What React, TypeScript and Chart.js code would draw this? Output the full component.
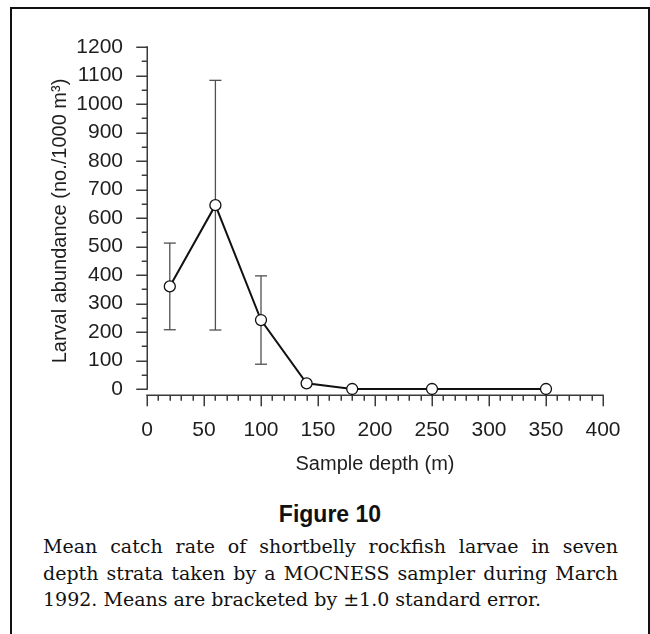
import React, { useEffect, useRef } from "react";
import { Chart, registerables } from "chart.js";

Chart.register(...registerables);

// Sampling depths (m) and mean larval abundance (no./1000 m³)
const depths = [20, 60, 100, 140, 180, 250, 350];
const means = [360, 645, 242, 20, 0, 0, 0];
// ±1.0 standard error limits (null where no bar is shown)
const errLow: (number | null)[] = [208, 207, 87, null, null, null, null];
const errHigh: (number | null)[] = [512, 1083, 397, null, null, null, null];

const xTicks = [0, 50, 100, 150, 200, 250, 300, 350, 400];
const yTicks = [0, 100, 200, 300, 400, 500, 600, 700, 800, 900, 1000, 1100, 1200];

const X_MIN = 0;
const X_MAX = 400;
const Y_MAX = 1200;
const X_MINOR = 10;
const Y_MINOR = 50;

const AXIS_COLOR = "#3a3a3a";
const TEXT_COLOR = "#1e1e1e";
const SANS = "'Liberation Sans', Arial, Helvetica, sans-serif";

const captionLines = [
  "Mean catch rate of shortbelly rockfish larvae in seven",
  "depth strata taken by a MOCNESS sampler during March",
  "1992. Means are bracketed by ±1.0 standard error.",
];

// Draws the detached axis lines with major/minor ticks and the error bars.
const axesAndErrors = {
  id: "axesAndErrors",
  beforeDatasetsDraw(chart: any) {
    const { ctx, chartArea } = chart;
    const xs = chart.scales.x;
    const ys = chart.scales.y;
    const line = (x1: number, y1: number, x2: number, y2: number) => {
      ctx.beginPath();
      ctx.moveTo(x1, y1);
      ctx.lineTo(x2, y2);
      ctx.stroke();
    };
    ctx.save();
    ctx.strokeStyle = AXIS_COLOR;
    ctx.lineWidth = 1.5;
    ctx.lineCap = "butt";

    // vertical axis: spans 0..Y_MAX
    const ax = Math.round(xs.getPixelForValue(X_MIN)) + 0.25;
    line(ax, ys.getPixelForValue(0) + 0.75, ax, ys.getPixelForValue(Y_MAX) - 0.75);
    for (let v = 0; v <= Y_MAX; v += Y_MINOR) {
      const py = Math.round(ys.getPixelForValue(v)) + 0.25;
      const len = v % 100 === 0 ? 11 : 5.5;
      line(ax - len, py, ax, py);
    }

    // horizontal axis: sits along the bottom of the plot area
    const ay = Math.round(chartArea.bottom) + 0.25;
    line(xs.getPixelForValue(X_MIN) - 0.75, ay, xs.getPixelForValue(X_MAX) + 0.75, ay);
    for (let v = X_MIN; v <= X_MAX; v += X_MINOR) {
      const px = Math.round(xs.getPixelForValue(v)) + 0.25;
      const len = v % 50 === 0 ? 11 : 5.5;
      line(px, ay, px, ay + len);
    }

    // error bars
    ctx.strokeStyle = "#505050";
    ctx.lineWidth = 1.3;
    depths.forEach((d, i) => {
      const lo = errLow[i];
      const hi = errHigh[i];
      if (lo == null || hi == null) return;
      const px = xs.getPixelForValue(d);
      const pLo = ys.getPixelForValue(lo);
      const pHi = ys.getPixelForValue(hi);
      line(px, pLo, px, pHi);
      line(px - 6, pLo, px + 6, pLo);
      line(px - 6, pHi, px + 6, pHi);
    });
    ctx.restore();
  },
};

function AbundanceChart() {
  const ref = useRef<HTMLCanvasElement>(null);

  useEffect(() => {
    if (!ref.current) return;
    const chart = new Chart(ref.current, {
      type: "scatter",
      data: {
        datasets: [
          {
            data: depths.map((d, i) => ({ x: d, y: means[i] })),
            showLine: true,
            borderColor: "#111",
            borderWidth: 2,
            pointRadius: 5.5,
            pointHoverRadius: 5.5,
            pointBackgroundColor: "#fff",
            pointBorderColor: "#111",
            pointBorderWidth: 1.3,
            clip: false,
          } as any,
        ],
      },
      options: {
        animation: false,
        responsive: false,
        events: [],
        layout: { padding: { top: 47, right: 47, left: 0, bottom: 0 } },
        plugins: { legend: { display: false }, tooltip: { enabled: false } },
        scales: {
          x: {
            type: "linear",
            min: X_MIN,
            max: X_MAX,
            afterBuildTicks: (s: any) => {
              s.ticks = xTicks.map((v) => ({ value: v }));
            },
            afterFit: (s: any) => {
              s.height = 95;
            },
            grid: { display: false, drawTicks: false },
            border: { display: false },
            ticks: {
              autoSkip: false,
              maxRotation: 0,
              padding: 23,
              color: TEXT_COLOR,
              font: { family: SANS, size: 21 },
              callback: (v: any) => String(v),
            },
            title: {
              display: true,
              text: "Sample depth (m)",
              color: TEXT_COLOR,
              font: { family: SANS, size: 20 },
              padding: { top: 0, bottom: 14 },
            },
          },
          y: {
            type: "linear",
            min: -21,
            max: Y_MAX,
            afterBuildTicks: (s: any) => {
              s.ticks = yTicks.map((v) => ({ value: v }));
            },
            afterFit: (s: any) => {
              s.width = 147;
            },
            grid: { display: false, drawTicks: false },
            border: { display: false },
            ticks: {
              autoSkip: false,
              padding: 24,
              color: TEXT_COLOR,
              font: { family: SANS, size: 21 },
              callback: (v: any) => String(v),
            },
            title: {
              display: true,
              text: "Larval abundance (no./1000 m³)",
              color: TEXT_COLOR,
              font: { family: SANS, size: 20 },
              padding: { top: 48, bottom: 0 },
            },
          },
        },
      },
      plugins: [axesAndErrors],
    });
    return () => chart.destroy();
  }, []);

  return (
    <canvas
      ref={ref}
      width={650}
      height={490}
      style={{ position: "absolute", left: 0, top: 0, width: 650, height: 490 }}
    />
  );
}

export default function App() {
  return (
    <div
      style={{
        position: "absolute",
        left: 0,
        top: 0,
        width: 650,
        height: 634,
        overflow: "hidden",
        background: "#fff",
      }}
    >
      <div
        style={{
          position: "absolute",
          left: 10,
          top: 7,
          width: 640,
          height: 627,
          boxSizing: "border-box",
          border: "2px solid #111",
          borderBottom: "none",
        }}
      />
      <AbundanceChart />
      <div
        style={{
          position: "absolute",
          left: 10,
          top: 500,
          width: 640,
          textAlign: "center",
          fontFamily: SANS,
          fontWeight: 700,
          fontSize: 23,
          lineHeight: "28px",
          color: "#111",
        }}
      >
        Figure 10
      </div>
      <div
        style={{
          position: "absolute",
          left: 43,
          top: 533,
          width: 575,
          fontFamily: "'DejaVu Serif', serif",
          fontSize: 19,
          lineHeight: "26.5px",
          color: "#111",
        }}
      >
        {captionLines.map((t, i) => (
          <div
            key={i}
            style={{
              textAlign: i < captionLines.length - 1 ? "justify" : "left",
              textAlignLast: i < captionLines.length - 1 ? "justify" : "left",
            }}
          >
            {t}
          </div>
        ))}
      </div>
    </div>
  );
}
